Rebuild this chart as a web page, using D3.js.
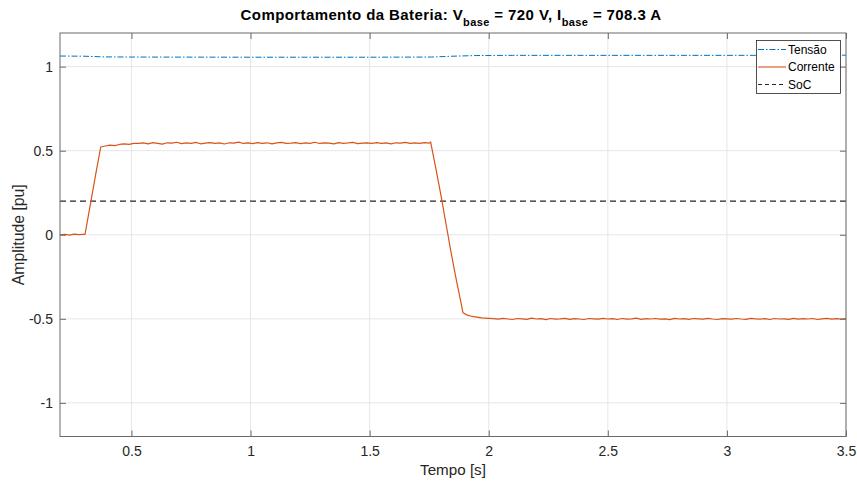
<!DOCTYPE html>
<html>
<head>
<meta charset="utf-8">
<script src="https://cdn.jsdelivr.net/npm/d3@7"></script>
<style>
  html, body { margin: 0; padding: 0; background: #fff; }
  svg { display: block; font-family: "Liberation Sans", Arial, Helvetica, sans-serif; }
</style>
</head>
<body>
<svg id="chart" width="857" height="484"></svg>
<script>
// ---- Battery signals (per-unit) ----
const xTicks = [0.5, 1, 1.5, 2, 2.5, 3, 3.5];
const yTicks = [-1, -0.5, 0, 0.5, 1];
const xTickLabels = ["0.5", "1", "1.5", "2", "2.5", "3", "3.5"];
const yTickLabels = ["-1", "-0.5", "0", "0.5", "1"];

// Tensão (voltage)
const tensaoTime  = [0.2, 0.3, 0.38, 0.5, 1.0, 1.5, 1.76, 1.85, 1.95, 2.1, 2.5, 3.0, 3.5];
const tensaoValue = [1.063, 1.062, 1.058, 1.057, 1.056, 1.056, 1.057, 1.062, 1.066, 1.067, 1.067, 1.067, 1.068];

// Corrente (current): idle, ramp up, discharge plateau, ramp down, charge plateau
const idleTime   = [0.20, 0.22, 0.24, 0.26, 0.28, 0.30, 0.305];
const idleValue  = [0.000, 0.003, -0.002, 0.004, 0.001, 0.003, 0.002];
const rampUpTime  = [0.33, 0.35, 0.371, 0.39, 0.41, 0.43, 0.45, 0.47, 0.49, 0.51];
const rampUpValue = [0.20, 0.36, 0.522, 0.528, 0.533, 0.530, 0.537, 0.541, 0.538, 0.544];
const plateauStart = 0.53, plateauStep = 0.02;
const plateauValue = [
  0.543,0.546,0.541,0.548,0.544,0.539,0.547,0.545,0.550,0.542,
  0.546,0.544,0.549,0.541,0.545,0.548,0.543,0.546,0.540,0.547,
  0.545,0.551,0.543,0.546,0.542,0.548,0.544,0.547,0.541,0.546,
  0.549,0.543,0.545,0.548,0.542,0.546,0.544,0.550,0.543,0.547,
  0.545,0.541,0.548,0.544,0.546,0.549,0.542,0.545,0.547,0.543,
  0.548,0.544,0.546,0.541,0.547,0.545,0.549,0.543,0.546,0.544,
  0.548,0.545
];
const rampDownTime  = [1.756, 1.78, 1.80, 1.82, 1.84, 1.86, 1.88, 1.892, 1.91, 1.93, 1.95, 1.97, 2.00];
const rampDownValue = [0.552, 0.38, 0.23, 0.07, -0.09, -0.24, -0.38, -0.464, -0.478, -0.486, -0.490, -0.494, -0.497];
const chargeStart = 2.02, chargeStep = 0.02;
const chargeValue = [
  -0.499,-0.502,-0.497,-0.501,-0.504,-0.498,-0.500,-0.503,-0.496,-0.501,
  -0.499,-0.505,-0.498,-0.502,-0.500,-0.497,-0.503,-0.499,-0.501,-0.504,
  -0.498,-0.500,-0.502,-0.497,-0.501,-0.499,-0.504,-0.498,-0.502,-0.500,
  -0.496,-0.503,-0.499,-0.501,-0.498,-0.502,-0.500,-0.505,-0.497,-0.501,
  -0.499,-0.503,-0.498,-0.500,-0.502,-0.497,-0.501,-0.504,-0.499,-0.500,
  -0.502,-0.498,-0.501,-0.503,-0.497,-0.500,-0.502,-0.499,-0.504,-0.498,
  -0.501,-0.500,-0.503,-0.497,-0.502,-0.499,-0.501,-0.498,-0.504,-0.500,
  -0.497,-0.502,-0.499,-0.501,-0.498
];

// SoC (constant)
const socTime  = [0.2, 3.5];
const socValue = [0.2, 0.2];

const seriesNames  = ["Tensão", "Corrente", "SoC"];
const seriesColors = ["#0072BD", "#D95319", "#262626"];

// ---- assemble point lists ----
const zip = (ts, vs) => ts.map((t, i) => ({ t, v: vs[i] }));
const tensao = zip(tensaoTime, tensaoValue);
const corrente = [].concat(
  zip(idleTime, idleValue),
  zip(rampUpTime, rampUpValue),
  plateauValue.map((v, i) => ({ t: plateauStart + i * plateauStep, v })),
  zip(rampDownTime, rampDownValue),
  chargeValue.map((v, i) => ({ t: chargeStart + i * chargeStep, v }))
);
const soc = zip(socTime, socValue);

// ---- layout ----
const svg = d3.select("#chart");
const L = 60, R = 846, T = 33, B = 436.5;
const x = d3.scaleLinear().domain([0.2, 3.5]).range([L, R]);
const y = d3.scaleLinear().domain([-1.2, 1.2]).range([B, T]);

// grid
const grid = svg.append("g");
grid.selectAll(".gx").data(xTicks).join("line")
  .attr("x1", d => x(d)).attr("x2", d => x(d)).attr("y1", T).attr("y2", B)
  .attr("stroke", "#e6e6e6").attr("stroke-width", 1);
grid.selectAll(".gy").data(yTicks).join("line")
  .attr("x1", L).attr("x2", R).attr("y1", d => y(d)).attr("y2", d => y(d))
  .attr("stroke", "#e6e6e6").attr("stroke-width", 1);

// clip for data
svg.append("clipPath").attr("id", "plotclip")
  .append("rect").attr("x", L).attr("y", T).attr("width", R - L).attr("height", B - T);

const line = d3.line().x(d => x(d.t)).y(d => y(d.v));
const plot = svg.append("g").attr("clip-path", "url(#plotclip)");

plot.append("path").datum(soc).attr("d", line)
  .attr("fill", "none").attr("stroke", seriesColors[2]).attr("stroke-width", 1.1)
  .attr("stroke-dasharray", "6,4");
plot.append("path").datum(corrente).attr("d", line)
  .attr("fill", "none").attr("stroke", seriesColors[1]).attr("stroke-width", 1.2)
  .attr("stroke-linejoin", "round");
plot.append("path").datum(tensao).attr("d", line)
  .attr("fill", "none").attr("stroke", seriesColors[0]).attr("stroke-width", 1)
  .attr("stroke-dasharray", "6,2,1.5,2");

// axes (box with inward ticks on all sides)
const axisColor = "#262626";
const tickLen = 6;
const xb = d3.axisBottom(x).tickValues(xTicks).tickSize(-tickLen).tickPadding(10)
  .tickFormat((d, i) => xTickLabels[i]);
const yl = d3.axisLeft(y).tickValues(yTicks).tickSize(-tickLen).tickPadding(7)
  .tickFormat((d, i) => yTickLabels[i]);

function styleAxis(g) {
  g.select(".domain").remove();
  g.selectAll(".tick line").attr("stroke", "#6a6a6a").attr("stroke-width", 1);
  g.selectAll(".tick text").attr("fill", axisColor).attr("font-size", 14)
    .attr("font-family", "Liberation Sans, Arial, sans-serif");
}
svg.append("g").attr("transform", `translate(0,${B})`).call(xb).call(styleAxis);
svg.append("g").attr("transform", `translate(${L},0)`).call(yl).call(styleAxis);
svg.append("g").attr("transform", `translate(0,${T})`)
  .call(d3.axisTop(x).tickValues(xTicks).tickSize(-tickLen).tickFormat(""))
  .call(styleAxis);
svg.append("g").attr("transform", `translate(${R},0)`)
  .call(d3.axisRight(y).tickValues(yTicks).tickSize(-tickLen).tickFormat(""))
  .call(styleAxis);

svg.append("rect").attr("x", L).attr("y", T).attr("width", R - L).attr("height", B - T)
  .attr("fill", "none").attr("stroke", "#6a6a6a").attr("stroke-width", 1);

// axis labels
svg.append("text").attr("x", (L + R) / 2).attr("y", 475)
  .attr("text-anchor", "middle").attr("font-size", 15.2).attr("fill", axisColor)
  .text("Tempo [s]");
svg.append("text").attr("transform", `translate(24,${(T + B) / 2}) rotate(-90)`)
  .attr("text-anchor", "middle").attr("font-size", 15.8).attr("fill", axisColor)
  .text("Amplitude [pu]");

// title with subscripts
const title = svg.append("text").attr("x", (L + R) / 2 - 2).attr("y", 19.5)
  .attr("text-anchor", "middle").attr("font-size", 15).attr("font-weight", "bold")
  .attr("letter-spacing", 0.4).attr("fill", "#000");
title.append("tspan").text("Comportamento da Bateria: V");
title.append("tspan").attr("font-size", 11).attr("dy", 6).text("base");
title.append("tspan").attr("dy", -6).text(" = 720 V, I");
title.append("tspan").attr("font-size", 11).attr("dy", 6).text("base");
title.append("tspan").attr("dy", -6).text(" = 708.3 A");

// legend
const lg = svg.append("g");
lg.append("rect").attr("x", 756.5).attr("y", 40.5).attr("width", 84).attr("height", 53)
  .attr("fill", "#fff").attr("stroke", "#262626").attr("stroke-width", 0.8);
const dashes = ["6,2,1.5,2", null, "4,3"];
seriesNames.forEach((name, i) => {
  const yy = 49.5 + i * 17.5;
  lg.append("line").attr("x1", 758).attr("x2", 786).attr("y1", yy).attr("y2", yy)
    .attr("stroke", seriesColors[i]).attr("stroke-width", 1.1)
    .attr("stroke-dasharray", dashes[i]);
  lg.append("text").attr("x", 788).attr("y", yy + 4.3).attr("font-size", 12)
    .attr("fill", "#000").text(name);
});
</script>
</body>
</html>
